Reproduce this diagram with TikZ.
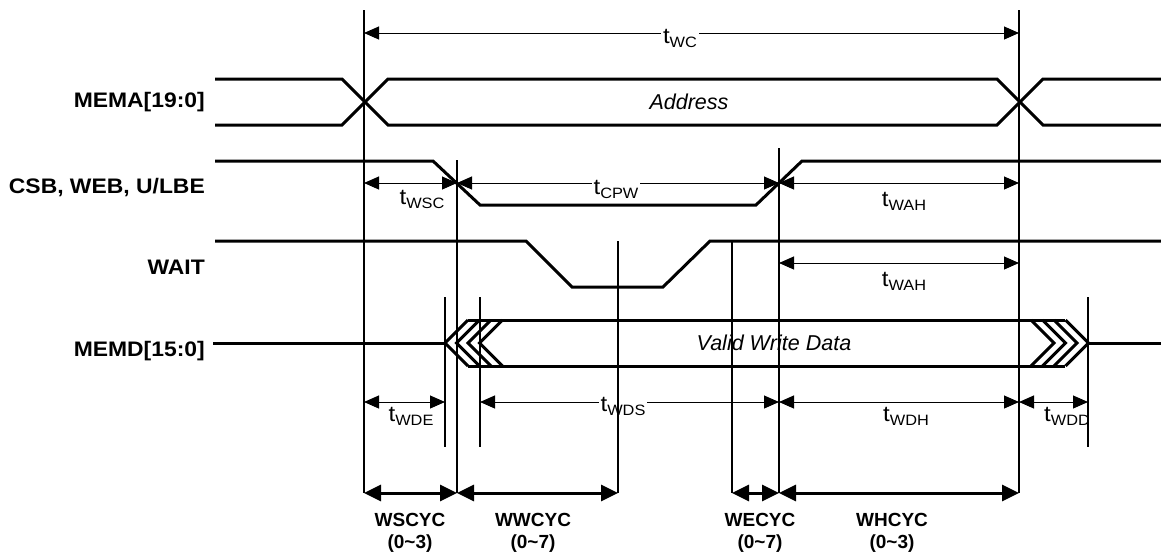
\documentclass[tikz,border=0pt]{standalone}
\usepackage{fontspec}
\setmainfont{Liberation Sans}
\newfontfamily\widefont{Liberation Sans}[FakeStretch=1.09]
\usetikzlibrary{arrows.meta}
\newcommand{\tsub}[1]{{\fontsize{22}{24}\selectfont t}\raisebox{-4pt}{\fontsize{15}{15}\selectfont #1}}
\tikzset{
  sig/.style={line width=3pt, line join=miter},
  marker/.style={line width=1.3pt},
  dim/.style={{Triangle[length=15pt,width=13pt]}-{Triangle[length=15pt,width=13pt]}, line width=1pt},
  cyc/.style={{Triangle[length=17pt,width=16pt]}-{Triangle[length=17pt,width=16pt]}, line width=3pt},
  signame/.style={font=\widefont\fontsize{21}{24}\selectfont\bfseries, anchor=east, inner sep=0pt},
  cycname/.style={font=\fontsize{19}{22}\selectfont\bfseries, align=center, inner sep=0pt},
  tval/.style={font=\widefont, inner sep=2pt},
  tgap/.style={tval, fill=white},
  busname/.style={font=\fontsize{21.5}{24}\selectfont\itshape},
}

\begin{document}
\begin{tikzpicture}[x=1pt, y=-1pt]
  \useasboundingbox (0,0) rectangle (1161,555);
  % time markers
  \coordinate (tA) at (364,493); \coordinate (tB) at (445,447);
  \coordinate (tC) at (457,493); \coordinate (tD) at (480,447);
  \coordinate (tE) at (618,493); \coordinate (tF) at (732,493);
  \coordinate (tG) at (779,493); \coordinate (tH) at (1019,493);
  \coordinate (tI) at (1088,447);
  % rows of the dimension lines
  \coordinate (rWC) at (0,33); \coordinate (rCS) at (0,183);
  \coordinate (rWT) at (0,263); \coordinate (rWD) at (0,402);

  % signal names
  \node[signame] (nMEMA) at (205,102) {MEMA[19:0]};
  \node[signame] (nCSB) at (205,188) {CSB, WEB, U/LBE};
  \node[signame] (nWAIT) at (205,267) {WAIT};
  \node[signame] (nMEMD) at (205,351) {MEMD[15:0]};

  % waveforms
  \draw[sig] (215,79) -- (342,79) -- (388,125) -- (997,125) -- (1043,79) -- (1161,79);
  \draw[sig] (215,125) -- (342,125) -- (388,79) -- (997,79) -- (1043,125) -- (1161,125);
  \node[busname] (addr) at (689,102) {Address};
  \draw[sig] (215,161) -- (433,161) -- (480,205) -- (756,205) -- (802,161) -- (1161,161);
  \draw[sig] (215,241) -- (526,241) -- (572,287) -- (663,287) -- (710,241) -- (1161,241);
  \draw[sig] (213,343) -- (445,343);
  \foreach \d in {0,11.5,23,34.5}
    \draw[sig] ({468+\d},320) -- ({445+\d},343) -- ({468+\d},366);
  \draw[sig] (468,320) -- (1065,320);
  \draw[sig] (468,366) -- (1065,366);
  \foreach \d in {0,11.5,23,34.5}
    \draw[sig] ({1031+\d},320) -- ({1054+\d},343) -- ({1031+\d},366);
  \draw[sig] (1088,343) -- (1161,343);
  \node[busname] (data) at (774,343) {Valid Write Data};

  % timing parameters
  \draw[dim] (tA |- rWC) -- (tH |- rWC);
  \node[tgap] (lWC) at (680,38) {\tsub{WC}};
  \draw[dim] (tA |- rCS) -- (tC |- rCS);
  \node[tval] (lWSC) at (422,199) {\tsub{WSC}};
  \draw[dim] (tC |- rCS) -- (tG |- rCS);
  \node[tgap] (lCPW) at (616,189) {\tsub{CPW}};
  \draw[dim] (tG |- rCS) -- (tH |- rCS);
  \node[tval] (lWAH) at (904,201) {\tsub{WAH}};
  \draw[dim] (tG |- rWT) -- (tH |- rWT);
  \node[tval] (lWAH2) at (904,281) {\tsub{WAH}};
  \draw[dim] (tA |- rWD) -- (tB |- rWD);
  \node[tval] (lWDE) at (411,416) {\tsub{WDE}};
  \draw[dim] (tD |- rWD) -- (tG |- rWD);
  \node[tgap] (lWDS) at (623,406) {\tsub{WDS}};
  \draw[dim] (tG |- rWD) -- (tH |- rWD);
  \node[tval] (lWDH) at (906,416) {\tsub{WDH}};
  \draw[dim] (tH |- rWD) -- (tI |- rWD);
  \node[tval] (lWDD) at (1067,416) {\tsub{WDD}};

  % marker lines
  \draw[marker] (tA |- 0,10) -- (tA);
  \draw[marker] (tH |- 0,10) -- (tH);
  \draw[marker] (tC |- 0,160) -- (tC);
  \draw[marker] (tG |- 0,148) -- (tG);
  \draw[marker] (tE |- 0,241) -- (tE);
  \draw[marker] (tF |- 0,241) -- (tF);
  \draw[marker] (tB |- 0,297) -- (tB);
  \draw[marker] (tD |- 0,297) -- (tD);
  \draw[marker] (tI |- 0,297) -- (tI);

  % wait-state cycles
  \draw[cyc] (tA) -- (tC);
  \draw[cyc] (tC) -- (tE);
  \draw[cyc] (tF) -- (tG);
  \draw[cyc] (tG) -- (tH);
  \node[cycname] (cWS) at (410,533) {WSCYC\\(0\textasciitilde3)};
  \node[cycname] (cWW) at (533,533) {WWCYC\\(0\textasciitilde7)};
  \node[cycname] (cWE) at (760,533) {WECYC\\(0\textasciitilde7)};
  \node[cycname] (cWH) at (892,533) {WHCYC\\(0\textasciitilde3)};
\end{tikzpicture}
\end{document}
